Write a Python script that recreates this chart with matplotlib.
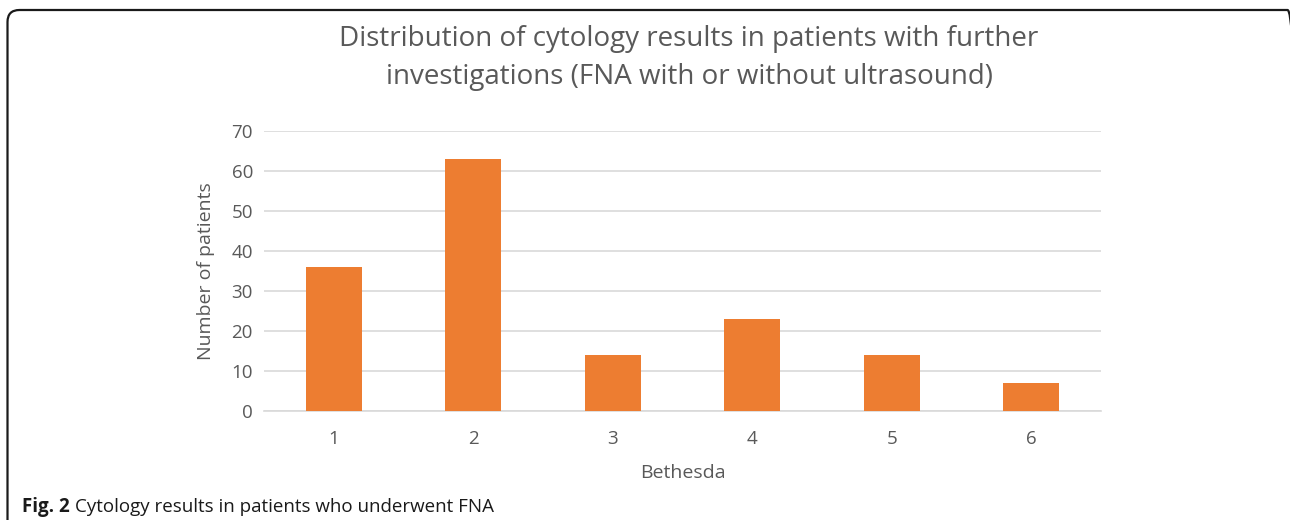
import matplotlib.pyplot as plt
from matplotlib.patches import FancyBboxPatch

# data
categories = ["1", "2", "3", "4", "5", "6"]
patients = [36, 63, 14, 23, 14, 7]
yticks = [0, 10, 20, 30, 40, 50, 60, 70]

grey = "#595959"
orange = "#ED7D31"

plt.rcParams["font.family"] = ["Open Sans", "DejaVu Sans"]

fig = plt.figure(figsize=(12.9, 5.2), dpi=100)
W, H = 1290, 520

# rounded frame (bottom and right side run off the picture)
frame = FancyBboxPatch((0.075, -0.5), 12.92, 5.2 - 0.10 + 0.5,
                       boxstyle="round,pad=0,rounding_size=0.12",
                       transform=fig.dpi_scale_trans, fill=False, lw=1.6, ec="#1a1a1a")
fig.patches.append(frame)

ax = fig.add_axes([264 / W, 1 - 411 / H, (1101 - 264) / W, (411 - 131) / H])
x = list(range(len(categories)))
ax.bar(x, patients, width=0.4, color=orange, zorder=3)
ax.set_xlim(-0.5, len(categories) - 0.5)
ax.set_ylim(0, 70)
ax.set_yticks(yticks)
ax.set_xticks(x)
ax.set_xticklabels(categories)
ax.grid(axis="y", color="#D9D9D9", lw=1.2, zorder=0)
for s in ["top", "right", "left"]:
    ax.spines[s].set_visible(False)
ax.spines["bottom"].set_color("#D9D9D9")
ax.spines["bottom"].set_linewidth(1.2)
ax.tick_params(axis="both", length=0, labelsize=13.5, colors=grey)
ax.tick_params(axis="x", pad=14)
ax.tick_params(axis="y", pad=8)
ax.set_xlabel("Bethesda", fontsize=14, color=grey, labelpad=11)
ax.set_ylabel("Number of patients", fontsize=14, color=grey, labelpad=12)

fig.text(689 / W, 1 - 58 / H,
         "Distribution of cytology results in patients with further\ninvestigations (FNA with or without ultrasound)",
         ha="center", va="center", fontsize=20, color=grey, linespacing=1.5)

cap_y = 1 - 507 / H
t1 = fig.text(22 / W, cap_y, "Fig. 2", fontsize=13.5, fontweight="bold",
              ha="left", va="center", color="#1a1a1a")
fig.canvas.draw()
bb = t1.get_window_extent()
fig.text((bb.x1 + 5) / W, cap_y, "Cytology results in patients who underwent FNA",
         fontsize=13.5, ha="left", va="center", color="#1a1a1a")

fig.savefig("out.png", dpi=100)
